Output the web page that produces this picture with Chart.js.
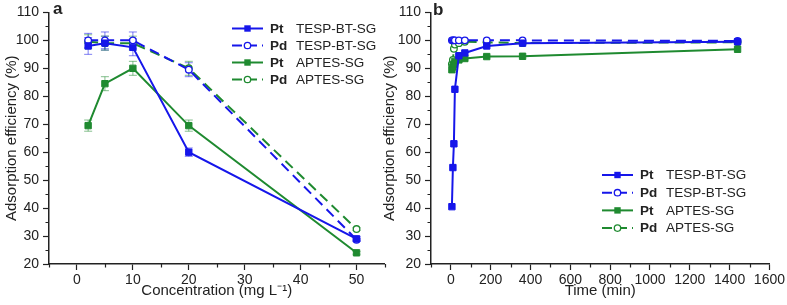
<!DOCTYPE html>
<html>
<head>
<meta charset="utf-8">
<script src="https://cdn.jsdelivr.net/npm/chart.js@4.4.1/dist/chart.umd.min.js"></script>
<style>
  html, body { margin: 0; padding: 0; background: #fff; }
  #wrap { position: relative; width: 787px; height: 305px; overflow: hidden; }
  #chartA { position: absolute; left: 0; top: 0; }
  #chartB { position: absolute; left: 378px; top: 0; }
</style>
</head>
<body>
<div id="wrap">
  <canvas id="chartA" width="390" height="305"></canvas>
  <canvas id="chartB" width="409" height="305"></canvas>
</div>
<script>
// panel a: concentration series (mg/L) with error bars
const concentration = [2, 5, 10, 20, 50];
const ptTespConc = [98, 99, 97.5, 60, 29];
const ptTespConcErr = [3, 2.5, 3, 1.5, 0.8];
const pdTespConc = [100, 100, 100, 89.5, 28.7];
const pdTespConcErr = [2.5, 3, 3, 2.5, 0.5];
const ptAptesConc = [69.5, 84.5, 90, 69.5, 24];
const ptAptesConcErr = [2, 2.5, 2.5, 2, 0.5];
const pdAptesConc = [99.5, 99, 99, 90, 32.5];
const pdAptesConcErr = [2.5, 2.5, 2.5, 2.5, 0.5];

// panel b: time series (min)
const time = [5, 10, 15, 20, 40, 70, 180, 360, 1440];
const ptTespTime = [40.5, 54.5, 63, 82.5, 94.5, 95.5, 98, 99, 99.5];
const pdTespTime = [100, 100, 100, 100, 100, 100, 100, 100, 99.8];
const ptAptesTime = [89.5, 90.5, 91.5, 92.5, 93, 93.5, 94.2, 94.3, 96.8];
const pdAptesTime = [91.5, 93, 97, 98.5, 99, 99.5, 99.3, 99, 99.3];

const legendMetals = ['Pt', 'Pd', 'Pt', 'Pd'];
const legendNames = ['TESP-BT-SG', 'TESP-BT-SG', 'APTES-SG', 'APTES-SG'];

const blue = '#1616ea';
const green = '#1f8a30';
const ink = '#222';
const seriesColors = [blue, blue, green, green];
const seriesOpen = [false, true, false, true];
const family = '"Liberation Sans", Arial, sans-serif';

Chart.defaults.font.family = family;
Chart.defaults.color = ink;

function toPoints(xs, ys) {
  return xs.map((x, i) => ({ x: x, y: ys[i] }));
}

function makeDataset(i, xs, ys, errs) {
  const c = seriesColors[i];
  const open = seriesOpen[i];
  return {
    data: toPoints(xs, ys),
    errs: errs,
    borderColor: c,
    backgroundColor: open ? '#fff' : c,
    pointBorderColor: c,
    pointBackgroundColor: open ? '#fff' : c,
    pointStyle: open ? 'circle' : 'rect',
    pointRadius: open ? 3.3 : 4.5,
    pointBorderWidth: open ? 1.3 : 1,
    borderWidth: 2,
    borderDash: open ? [10, 6] : [],
    tension: 0,
    fill: false
  };
}

const extras = {
  id: 'extras',
  beforeDatasetsDraw(chart) {
    const ctx = chart.ctx;
    const xs = chart.scales.x, ys = chart.scales.y;
    chart.data.datasets.forEach(ds => {
      if (!ds.errs) return;
      ctx.save();
      ctx.strokeStyle = ds.borderColor;
      ctx.globalAlpha = 0.55;
      ctx.lineWidth = 1;
      ds.data.forEach((p, i) => {
        const px = xs.getPixelForValue(p.x);
        const top = ys.getPixelForValue(p.y + ds.errs[i]);
        const bot = ys.getPixelForValue(p.y - ds.errs[i]);
        ctx.beginPath();
        ctx.moveTo(px, top); ctx.lineTo(px, bot);
        ctx.moveTo(px - 4, top); ctx.lineTo(px + 4, top);
        ctx.moveTo(px - 4, bot); ctx.lineTo(px + 4, bot);
        ctx.stroke();
      });
      ctx.restore();
    });
  },
  afterDraw(chart, args, opts) {
    const ctx = chart.ctx;
    const xs = chart.scales.x, ys = chart.scales.y;
    ctx.save();
    // minor ticks
    ctx.strokeStyle = ink;
    ctx.lineWidth = 1.2;
    ctx.beginPath();
    xs.ticks.forEach(t => {
      if (t.value % opts.xMajor === 0) return;
      const px = Math.round(xs.getPixelForValue(t.value)) + 0.5;
      ctx.moveTo(px, xs.top); ctx.lineTo(px, xs.top + 3.5);
    });
    ys.ticks.forEach(t => {
      if (t.value % 10 === 0) return;
      const py = Math.round(ys.getPixelForValue(t.value)) + 0.5;
      ctx.moveTo(ys.right, py); ctx.lineTo(ys.right - 3.5, py);
    });
    ctx.stroke();

    // panel letter
    ctx.fillStyle = ink;
    ctx.font = 'bold 17px ' + family;
    ctx.textBaseline = 'alphabetic';
    ctx.fillText(opts.letter, opts.letterX, opts.letterY);

    // legend
    const lg = opts.legend;
    ctx.textBaseline = 'middle';
    legendMetals.forEach((metal, i) => {
      const y = lg.y + i * lg.dy;
      const c = seriesColors[i];
      ctx.strokeStyle = c;
      ctx.lineWidth = 2;
      ctx.setLineDash(seriesOpen[i] ? [10, 5] : []);
      ctx.beginPath();
      ctx.moveTo(lg.x, y); ctx.lineTo(lg.x + 31, y);
      ctx.stroke();
      ctx.setLineDash([]);
      const mx = lg.x + 15.5;
      if (seriesOpen[i]) {
        ctx.fillStyle = '#fff';
        ctx.lineWidth = 1.3;
        ctx.beginPath(); ctx.arc(mx, y, 3.2, 0, Math.PI * 2); ctx.fill(); ctx.stroke();
      } else {
        ctx.fillStyle = c;
        ctx.fillRect(mx - 3.2, y - 3.2, 6.4, 6.4);
      }
      ctx.fillStyle = ink;
      ctx.font = 'bold 13.5px ' + family;
      ctx.fillText(metal, lg.x + 38, y + 0.5);
      ctx.font = '13.5px ' + family;
      ctx.fillText(legendNames[i], lg.x + 64, y + 0.5);
    });
    ctx.restore();
  }
};

function buildScales(xMin, xMax, xStep, xMajor, xLabelMax, xTitle, yWidth) {
  const tickColor = major => c => (c.tick && c.tick.value % major === 0) ? ink : 'rgba(0,0,0,0)';
  return {
    x: {
      type: 'linear',
      min: xMin, max: xMax,
      border: { color: ink, width: 1.5 },
      grid: { drawOnChartArea: false, drawTicks: true, tickLength: 6, tickWidth: 1.2, tickColor: tickColor(xMajor) },
      ticks: {
        stepSize: xStep, autoSkip: false, maxRotation: 0, padding: 2,
        color: ink, font: { size: 14 },
        callback: v => (v % xMajor === 0 && v >= 0 && v <= xLabelMax) ? String(v) : ''
      },
      title: { display: true, text: xTitle, color: ink, font: { size: 15 }, padding: { top: 0, bottom: 5 } },
      afterFit: s => { s.height = 41; }
    },
    y: {
      type: 'linear',
      min: 20, max: 110,
      border: { color: ink, width: 1.5 },
      grid: { drawOnChartArea: false, drawTicks: true, tickLength: 6, tickWidth: 1.2, tickColor: tickColor(10) },
      ticks: {
        stepSize: 5, autoSkip: false, padding: 4,
        color: ink, font: { size: 14 },
        callback: v => (v % 10 === 0) ? String(v) : ''
      },
      title: { display: true, text: 'Adsorption efficiency (%)', color: ink, font: { size: 15 }, padding: { top: 3, bottom: 0 } },
      afterFit: s => { s.width = yWidth; }
    }
  };
}

new Chart(document.getElementById('chartA'), {
  type: 'line',
  data: {
    datasets: [
      makeDataset(0, concentration, ptTespConc, ptTespConcErr),
      makeDataset(1, concentration, pdTespConc, pdTespConcErr),
      makeDataset(2, concentration, ptAptesConc, ptAptesConcErr),
      makeDataset(3, concentration, pdAptesConc, pdAptesConcErr)
    ]
  },
  options: {
    responsive: false,
    animation: false,
    layout: { padding: { top: 9, right: 3, left: 0, bottom: 0 } },
    scales: buildScales(-5, 55, 5, 10, 50, 'Concentration (mg L\u207B\u00B9)', 49),
    plugins: {
      legend: { display: false },
      tooltip: { enabled: false },
      extras: { xMajor: 10, letter: 'a', letterX: 53, letterY: 14, legend: { x: 232, y: 28.5, dy: 17 } }
    }
  },
  plugins: [extras]
});

new Chart(document.getElementById('chartB'), {
  type: 'line',
  data: {
    datasets: [
      makeDataset(0, time, ptTespTime, null),
      makeDataset(1, time, pdTespTime, null),
      makeDataset(2, time, ptAptesTime, null),
      makeDataset(3, time, pdAptesTime, null)
    ]
  },
  options: {
    responsive: false,
    animation: false,
    layout: { padding: { top: 9, right: 16, left: 0, bottom: 0 } },
    scales: buildScales(-100, 1600, 100, 200, 1600, 'Time (min)', 53),
    plugins: {
      legend: { display: false },
      tooltip: { enabled: false },
      extras: { xMajor: 200, letter: 'b', letterX: 55, letterY: 15, legend: { x: 224, y: 175, dy: 17.7 } }
    }
  },
  plugins: [extras]
});
</script>
</body>
</html>
